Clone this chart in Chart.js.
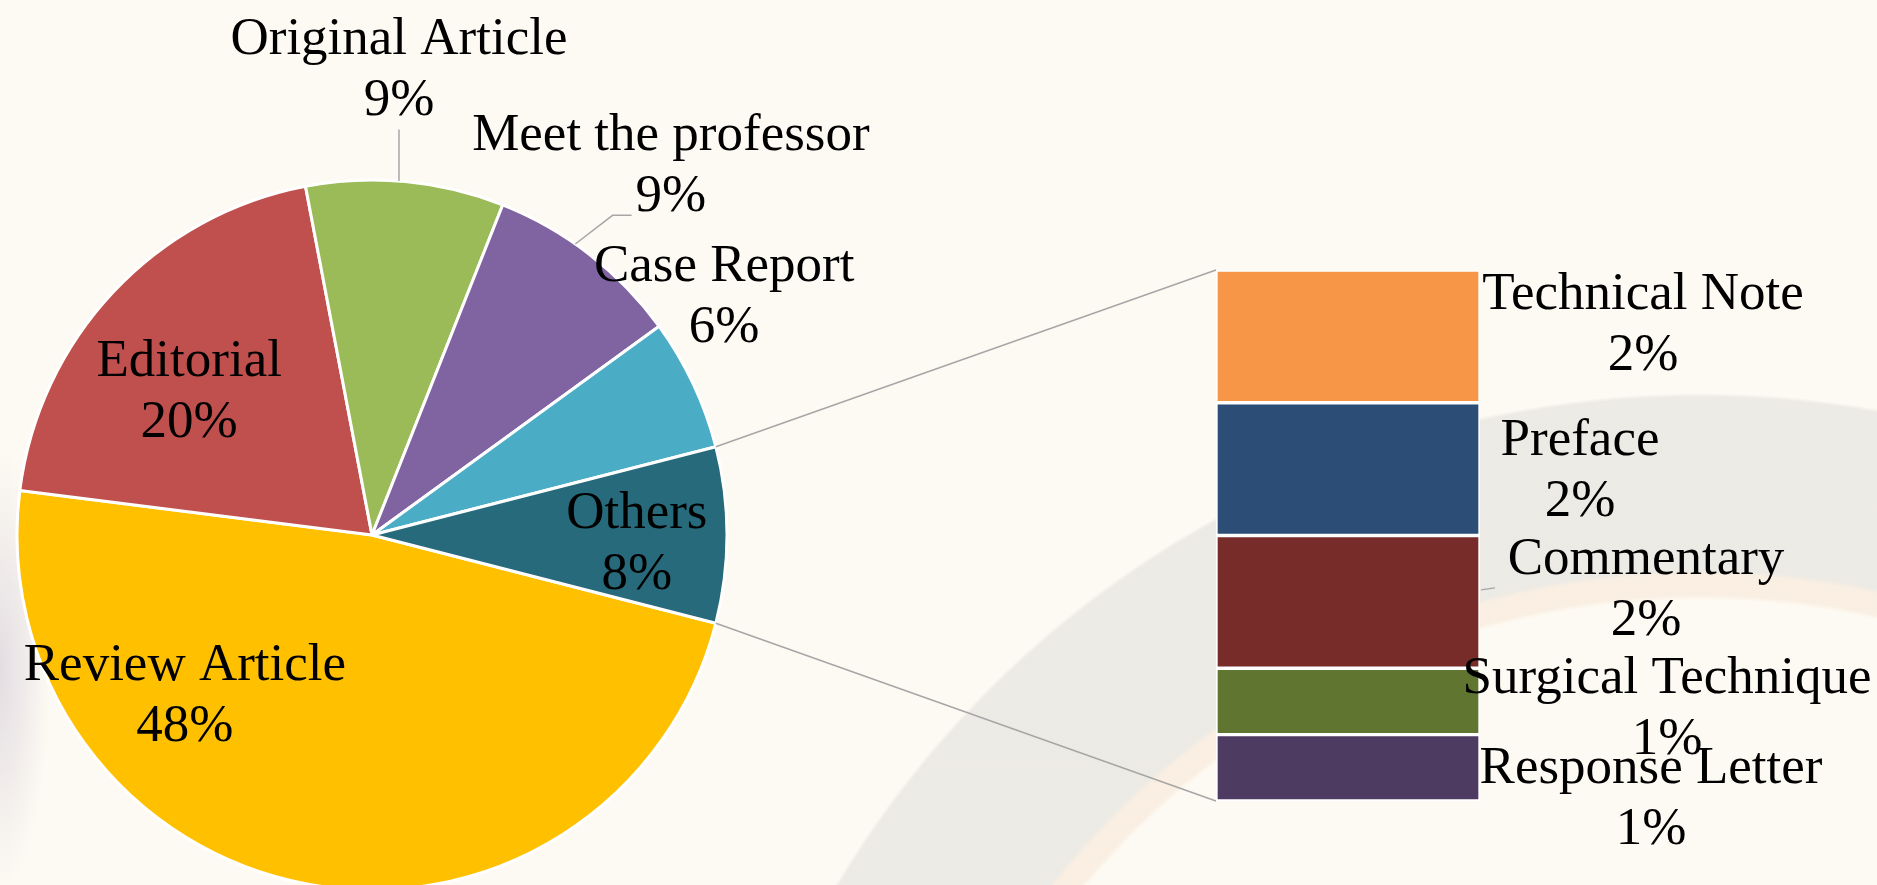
<!DOCTYPE html>
<html>
<head>
<meta charset="utf-8">
<title>Article types</title>
<script src="https://cdn.jsdelivr.net/npm/chart.js@4.4.1/dist/chart.umd.min.js"></script>
<style>
  html, body { margin: 0; padding: 0; }
  body {
    width: 1877px; height: 885px; overflow: hidden; position: relative;
    background:
      radial-gradient(circle at 1700px 1400px, rgba(0,0,0,0) 0 800px, rgba(240,205,175,0.25) 805px 825px, rgba(226,224,219,0.6) 830px 1003px, rgba(0,0,0,0) 1007px),
      radial-gradient(50px 220px at 0px 670px, rgba(195,185,205,0.45), rgba(0,0,0,0)),
      #fdfaf3;
  }
  canvas { position: absolute; left: 0; top: 0; }
</style>
</head>
<body>
<canvas id="pieChart" width="1877" height="885"></canvas>
<canvas id="barChart" width="1877" height="885"></canvas>
<script>
/* ============================================
   Article types - pie of bar
   ============================================ */

// main pie, clockwise from the Review Article slice
var pieLabels = ['Review Article', 'Editorial', 'Original Article', 'Meet the professor', 'Case Report', 'Others'];
var pieValues = [48, 20, 9, 9, 6, 8];
var pieColors = ['#FFC000', '#C0504D', '#9BBB59', '#8064A2', '#4BACC6', '#276A7B'];

// breakdown of "Others", top to bottom
var barLabels = ['Technical Note', 'Preface', 'Commentary', 'Surgical Technique', 'Response Letter'];
var barValues = [2, 2, 2, 1, 1];
var barColors = ['#F79646', '#2C4D75', '#772C2A', '#5F7530', '#4D3B62'];

// label placement (pie: in radii from the centre, bar: px right of bar / px from segment middle)
var pieLabelPos = [[-0.527, 0.456], [-0.515, -0.400], [0.076, -1.307], [0.842, -1.037], [0.992, -0.668], [0.746, 0.028]];
var barLabelPos = [[163, -11], [100, 2], [166, -11], [187, 8], [171, 32]];

var FONT = '53px "Liberation Serif", "Times New Roman", serif';
var LINE_GAP = 61;
var LEADER = '#a6a6a6';

function twoLines(ctx, x, y, a, b) {
  ctx.fillText(a, x, y - LINE_GAP / 2);
  ctx.fillText(b, x, y + LINE_GAP / 2);
}

var pieLabelPlugin = {
  id: 'pieLabels',
  afterDatasetsDraw: function (chart) {
    var ctx = chart.ctx;
    var arcs = chart.getDatasetMeta(0).data;
    ctx.save();
    ctx.font = FONT;
    ctx.fillStyle = '#000';
    ctx.textAlign = 'center';
    ctx.textBaseline = 'middle';
    ctx.strokeStyle = LEADER;
    ctx.lineWidth = 1.5;
    arcs.forEach(function (arc, i) {
      var r = arc.outerRadius;
      var lx = arc.x + pieLabelPos[i][0] * r;
      var ly = arc.y + pieLabelPos[i][1] * r;
      var mid = (arc.startAngle + arc.endAngle) / 2;

      if (pieLabels[i] === 'Original Article') {
        // straight leader down to the rim
        var dx = lx - arc.x;
        ctx.beginPath();
        ctx.moveTo(lx, ly + LINE_GAP / 2 + 28);
        ctx.lineTo(lx, arc.y - Math.sqrt(r * r - dx * dx));
        ctx.stroke();
      }
      if (pieLabels[i] === 'Meet the professor') {
        // elbow leader from under the percentage
        var w = ctx.measureText(pieValues[i] + '%').width;
        var hy = ly + LINE_GAP / 2 + 18;
        var hx = lx - w / 2 - 4;
        ctx.beginPath();
        ctx.moveTo(hx, hy);
        ctx.lineTo(hx - 19, hy);
        ctx.lineTo(arc.x + r * Math.cos(mid - 0.05), arc.y + r * Math.sin(mid - 0.05));
        ctx.stroke();
      }
      twoLines(ctx, lx, ly, pieLabels[i], pieValues[i] + '%');
    });
    ctx.restore();
  }
};

var pieChart = new Chart(document.getElementById('pieChart'), {
  type: 'pie',
  data: {
    labels: pieLabels,
    datasets: [{
      data: pieValues,
      backgroundColor: pieColors,
      borderColor: '#ffffff',
      borderWidth: 3,
    }],
  },
  options: {
    responsive: false,
    animation: false,
    rotation: 104.4,
    radius: 355,
    layout: { padding: { left: 0, right: 1133, top: 185, bottom: 0 } },
    plugins: {
      legend: { display: false },
      tooltip: { enabled: false },
    },
  },
  plugins: [pieLabelPlugin],
});

var barTotal = barValues.reduce(function (a, b) { return a + b; }, 0);

// stacked bar: first dataset sits at the bottom, so build it reversed
var barDatasets = barLabels.map(function (name, i) {
  return {
    label: name,
    data: [barValues[i]],
    backgroundColor: barColors[i],
    borderColor: '#ffffff',
    borderWidth: 2,
    borderSkipped: false,
  };
}).reverse();

var barLabelPlugin = {
  id: 'barLabels',
  beforeDatasetsDraw: function (chart) {
    // connectors from the "Others" slice to the bar
    var ctx = chart.ctx;
    var others = pieChart.getDatasetMeta(0).data[pieLabels.indexOf('Others')];
    var topEl = chart.getDatasetMeta(chart.data.datasets.length - 1).data[0];
    var botEl = chart.getDatasetMeta(0).data[0];
    var left = topEl.x - topEl.width / 2;
    ctx.save();
    ctx.strokeStyle = LEADER;
    ctx.lineWidth = 1.5;
    ctx.beginPath();
    ctx.moveTo(others.x + others.outerRadius * Math.cos(others.startAngle), others.y + others.outerRadius * Math.sin(others.startAngle));
    ctx.lineTo(left, topEl.y);
    ctx.moveTo(others.x + others.outerRadius * Math.cos(others.endAngle), others.y + others.outerRadius * Math.sin(others.endAngle));
    ctx.lineTo(left, botEl.base);
    ctx.stroke();
    ctx.restore();
  },
  afterDatasetsDraw: function (chart) {
    var ctx = chart.ctx;
    ctx.save();
    ctx.font = FONT;
    ctx.fillStyle = '#000';
    ctx.textAlign = 'center';
    ctx.textBaseline = 'middle';
    chart.data.datasets.forEach(function (ds, d) {
      var el = chart.getDatasetMeta(d).data[0];
      var i = barLabels.indexOf(ds.label);
      var right = el.x + el.width / 2;
      var midY = (el.y + el.base) / 2;
      var lx = right + barLabelPos[i][0];
      var ly = midY + barLabelPos[i][1];
      if (ds.label === 'Commentary') {
        ctx.strokeStyle = LEADER;
        ctx.lineWidth = 1.5;
        ctx.beginPath();
        ctx.moveTo(right + 1, midY - 12);
        ctx.lineTo(right + 15, midY - 14);
        ctx.stroke();
      }
      twoLines(ctx, lx, ly, ds.label, ds.data[0] + '%');
    });
    ctx.restore();
  }
};

new Chart(document.getElementById('barChart'), {
  type: 'bar',
  data: {
    labels: ['Others'],
    datasets: barDatasets,
  },
  options: {
    responsive: false,
    animation: false,
    layout: { padding: { left: 1216, right: 397, top: 270, bottom: 84 } },
    datasets: { bar: { categoryPercentage: 1, barPercentage: 1 } },
    scales: {
      x: { stacked: true, display: false },
      y: { stacked: true, display: false, min: 0, max: barTotal },
    },
    plugins: {
      legend: { display: false },
      tooltip: { enabled: false },
    },
  },
  plugins: [barLabelPlugin],
});
</script>
</body>
</html>
